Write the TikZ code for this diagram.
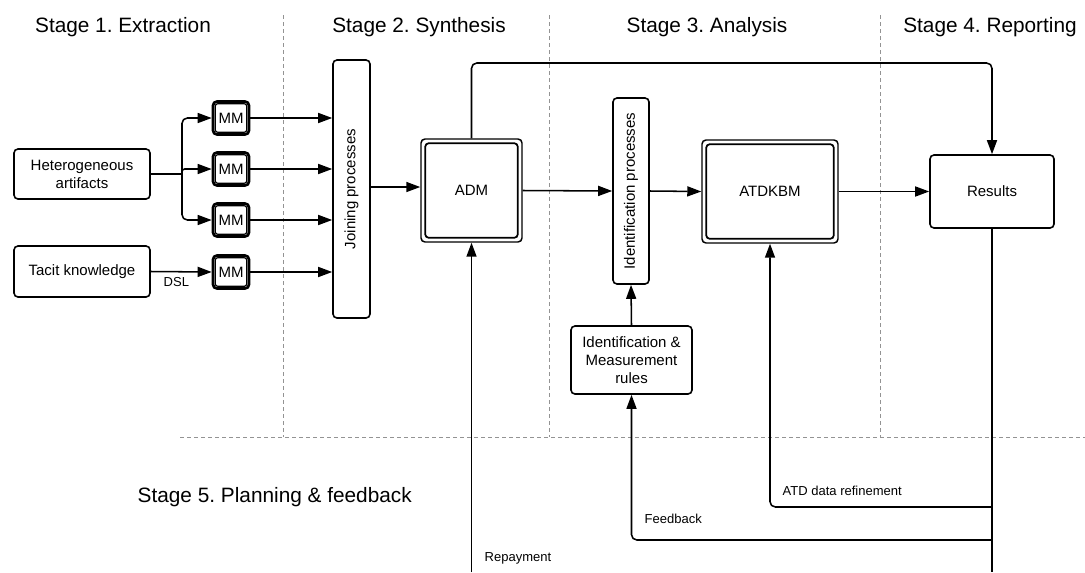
\documentclass[tikz,border=0pt]{standalone}
\usepackage{fontspec}
\setmainfont{Liberation Sans}
\usetikzlibrary{arrows.meta,calc}
\frenchspacing
\begin{document}
\begin{tikzpicture}[x=0.75pt,y=-0.75pt,
  box/.style={draw, line width=1.2pt, rounded corners=3pt, fill=white, inner sep=0pt, align=center, font=\fontsize{11.25}{13.5}\selectfont},
  mmbox/.style={box, line width=2pt, minimum width=27pt, minimum height=24.75pt},
  dblbox/.style={box, line width=1.1pt},
  inner/.style={line width=1.3pt, rounded corners=2.5pt},
  conn/.style={line width=1.15pt},
  arr/.style={conn, -{Triangle[length=10.5pt,width=7.5pt]}},
  stage/.style={font=\fontsize{15.6}{18}\selectfont},
  lbl/.style={font=\fontsize{9.75}{12}\selectfont},
  sep/.style={draw=gray!85, line width=0.75pt, dash pattern=on 3pt off 2.25pt},
]
\useasboundingbox (0,0) rectangle (1085,572);

% separators
\draw[sep] (283,15) -- (283,437);
\draw[sep] (549,15) -- (549,437);
\draw[sep] (880,15) -- (880,437);
\draw[sep] (180,437) -- (1085,437);

% stage titles
\node[stage] (s1) at (123,27) {Stage 1. Extraction};
\node[stage] (s2) at (419,27) {Stage 2. Synthesis};
\node[stage] (s3) at (707,27) {Stage 3. Analysis};
\node[stage] (s4) at (990,27) {Stage 4. Reporting};
\node[stage, anchor=west] (s5) at (133,497) {Stage 5. Planning \& feedback};

% nodes
\node[box, minimum width=102pt, minimum height=37.5pt] (het) at (82,174) {Heterogeneous\\artifacts};
\node[box, minimum width=102pt, minimum height=38.25pt] (tacit) at (82,271.5) {Tacit knowledge};

\foreach \i/\yy in {1/118,2/169,3/220,4/272}{
  \node[mmbox] (mm\i) at (231,\yy) {MM};
  \draw[inner, line width=0.9pt, rounded corners=2pt] ($(mm\i.north west)+(3.5,3.5)$) rectangle ($(mm\i.south east)+(-3.5,-3.5)$);
}

\node[box, minimum width=27.75pt, minimum height=193.5pt] (join) at (351.5,189) {};
\node[rotate=90, font=\fontsize{11.25}{13.5}\selectfont] (jointxt) at (join) {Joining processes};

\node[dblbox, minimum width=75.75pt, minimum height=77.25pt] (adm) at (471.5,190.5) {ADM};
\draw[inner] ($(adm.north west)+(5,5)$) rectangle ($(adm.south east)+(-5,-5)$);

\node[box, minimum width=27pt, minimum height=139.5pt] (ident) at (631,191) {};
\node[rotate=90, font=\fontsize{11.25}{13.5}\selectfont] (identtxt) at (ident) {Identification processes};

\node[dblbox, minimum width=102pt, minimum height=77.25pt] (atd) at (770,191.5) {ATDKBM};
\draw[inner] ($(atd.north west)+(5,5)$) rectangle ($(atd.south east)+(-5,-5)$);

\node[box, minimum width=93pt, minimum height=54.75pt] (res) at (992,191.5) {Results};

\node[box, minimum width=90.75pt, minimum height=51pt] (rules) at (631.5,360) {Identification \&\\Measurement\\rules};

% connectors stage 1
\coordinate (br) at (182,174);
\draw[conn] (het.east) -- (br);
\draw[arr, rounded corners=4pt] (br) |- (mm1.west);
\draw[arr, rounded corners=2pt] (br) |- (mm2.west);
\draw[arr, rounded corners=4pt] (br) |- (mm3.west);
\draw[arr] (tacit.east) -- node[lbl, below, pos=0.42] (dsl) {DSL} (mm4.west);
\foreach \i in {1,2,3,4}{
  \draw[arr] (mm\i.east) -- (mm\i.east -| join.west);
}
\draw[arr] (join.east |- 0,187) -- (adm.west |- 0,187);
\draw[arr] (adm.east) -- (ident.west);
\draw[arr] (ident.east) -- (atd.west);
\draw[arr] (atd.east) -- (res.west);
\draw[arr] (rules.north) -- (ident.south);

% top line
\coordinate (ytop) at (0,63);
\draw[arr, rounded corners=4pt] (adm.north) -- (adm.north |- ytop) -| (res.north);

% bottom lines
\coordinate (ybot) at (0,572);
\coordinate (yref) at (0,507);
\coordinate (yfb) at (0,540);
\draw[conn] (res.south) -- (res.south |- ybot);
\draw[arr] (adm.south |- ybot) -- (adm.south);
\draw[arr, rounded corners=4pt] (res.south |- yref) -| (atd.south);
\draw[arr, rounded corners=4pt] (res.south |- yfb) -| (rules.south);

\node[lbl, anchor=west] (lref) at (778,491) {ATD data refinement};
\node[lbl, anchor=west] (lfb) at (640,519) {Feedback};
\node[lbl, anchor=west] (lrep) at (480,558) {Repayment};
\end{tikzpicture}
\end{document}
